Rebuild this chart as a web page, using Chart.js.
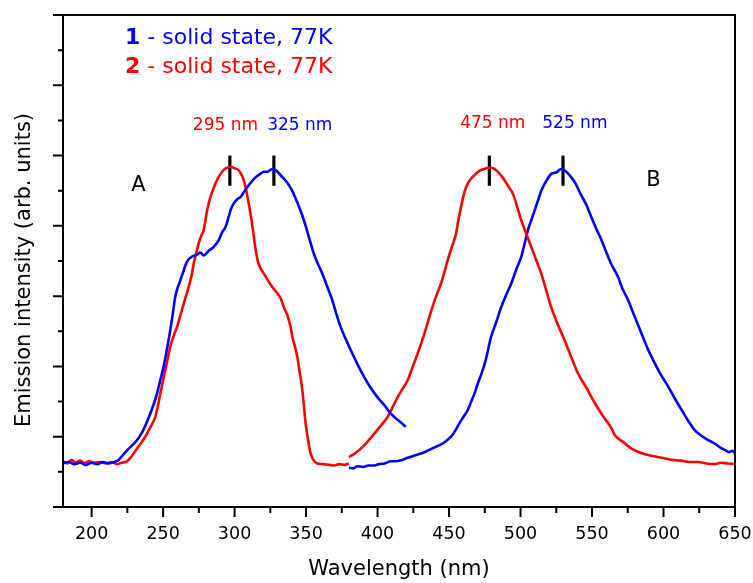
<!DOCTYPE html>
<html lang="en">
<head>
<meta charset="UTF-8">
<title>Emission spectra</title>
<script src="https://cdn.jsdelivr.net/npm/chart.js"></script>
<style>
  body { margin: 0; background: #fff; }
  #wrap { width: 753px; height: 583px; }
</style>
</head>
<body>
<div id="wrap"><canvas id="myChart"></canvas></div>
<script>
// axis ticks
const xTicks = [200, 250, 300, 350, 400, 450, 500, 550, 600, 650];
const xMinor = [225, 275, 325, 375, 425, 475, 525, 575, 625];
const yTicks = [0, 1, 2, 3, 4, 5, 6, 7];
const yMinor = [0.5, 1.5, 2.5, 3.5, 4.5, 5.5, 6.5];

// compound 1, band A (blue)
const blueAX = [180,184,188,192,196,200,204,208,212,216,219,222.3,226,231.7,235,238.7,242,245.7,248,250.3,253,255,257,258.5,260.5,262,264,266.7,270,273.7,276,278.4,282,285.4,289,291.3,293.6,295.9,297.5,299.4,302,304.1,306.5,308.8,312,314.6,318,320.5,323,326.4,329,332.2,335,338,340.5,342.7,345.5,348.5,352,355.5,358.5,361.4,364.9,368.4,371,374.2,377.5,381.3,386,390.6,395,400,405,409.3,414,417,419.8];
const blueAY = [0.62,0.64,0.61,0.63,0.60,0.63,0.61,0.64,0.62,0.64,0.67,0.75,0.83,0.95,1.05,1.21,1.38,1.61,1.80,1.99,2.28,2.51,2.78,2.99,3.14,3.22,3.34,3.49,3.56,3.59,3.62,3.58,3.65,3.70,3.80,3.91,3.98,4.13,4.24,4.32,4.38,4.41,4.48,4.55,4.63,4.69,4.74,4.77,4.77,4.81,4.79,4.72,4.66,4.58,4.49,4.39,4.25,4.08,3.84,3.60,3.45,3.32,3.13,2.94,2.76,2.56,2.40,2.23,2.03,1.85,1.70,1.56,1.44,1.33,1.24,1.19,1.14];

// compound 2, band A (red)
const redAX = [180,183,186,189,192,195,198,202,206,210,214,218,221,224.7,228,231.7,235,238.7,241.5,244.5,246.5,248,250,251.5,253.3,255,257.5,259.7,262,264.4,266,267.9,270,271.4,273,274.9,276.5,278.4,280.8,283.1,286.6,289,291.3,294,297.1,300,302.9,305,306.4,308,309.5,311.1,312.8,314.6,316.5,318.5,320.5,323.5,326.4,329.9,332.2,334.5,336.9,339.2,340.4,342,343.9,345.7,347.4,348.6,349.7,351.4,353.2,355.5,357.9,362,366,369.5,373,377,380];
const redAY = [0.65,0.62,0.67,0.63,0.66,0.62,0.65,0.63,0.64,0.62,0.64,0.61,0.63,0.65,0.72,0.83,0.92,1.04,1.15,1.28,1.45,1.61,1.80,1.94,2.12,2.28,2.44,2.56,2.72,2.89,3.00,3.13,3.30,3.46,3.60,3.75,3.85,3.94,4.22,4.41,4.60,4.70,4.77,4.82,4.84,4.82,4.79,4.72,4.65,4.52,4.36,4.18,3.95,3.68,3.48,3.38,3.32,3.22,3.13,3.04,2.97,2.84,2.73,2.56,2.42,2.30,2.13,1.90,1.66,1.42,1.19,0.95,0.76,0.66,0.62,0.61,0.60,0.59,0.61,0.60,0.62];

// compound 2, band B (red)
const redBX = [380,384,388.3,393,397.6,402,407,410.5,414,417.5,421,424.5,428,432.5,437.4,441,444.4,447,449,452,454.9,456.5,458.4,460,461.9,464.5,467.7,471,474.7,478,481.8,485.5,488.8,491.5,494.6,497.5,500.5,504,507.5,511,514.5,518,521.5,526,530.9,535.5,540.2,546,551.9,557.5,563.6,566,572,577.6,583,589.3,594,598.7,605.7,612,618,624.4,630,636,640,645,650];
const redBY = [0.71,0.76,0.83,0.93,1.04,1.15,1.28,1.42,1.56,1.68,1.80,1.99,2.18,2.45,2.78,3.00,3.18,3.36,3.51,3.70,3.89,4.08,4.27,4.42,4.55,4.65,4.72,4.78,4.81,4.83,4.81,4.74,4.65,4.56,4.46,4.28,4.08,3.89,3.70,3.51,3.32,3.08,2.84,2.60,2.37,2.13,1.90,1.70,1.48,1.30,1.12,1.02,0.92,0.83,0.78,0.74,0.72,0.70,0.67,0.66,0.64,0.64,0.62,0.61,0.63,0.62,0.61];

// compound 1, band B (blue)
const blueBX = [380,383,386,390,393.5,397.6,401,405,409.3,413,417,421,427,432.7,438,444.4,448,451.4,454.5,457.2,460,463.1,465.5,467.7,470,472.4,475.5,479.4,483,486.4,490,493.5,497,500.5,503,505.2,507.5,509.9,512,514.5,518,521.5,525,528.5,532,535.5,538.5,542.6,546,549.6,552.5,556.6,559.5,563.6,568.3,571,575.3,580,584.6,589,594,598.5,603.4,608,612.7,617.5,622,626,631.4,636,640,643,646,648,650];
const blueBY = [0.56,0.55,0.58,0.57,0.59,0.59,0.61,0.62,0.65,0.65,0.67,0.70,0.74,0.78,0.83,0.89,0.94,1.00,1.09,1.19,1.28,1.38,1.50,1.61,1.75,1.88,2.08,2.42,2.63,2.84,3.02,3.18,3.38,3.56,3.76,3.94,4.08,4.22,4.35,4.50,4.64,4.74,4.76,4.81,4.77,4.69,4.60,4.43,4.30,4.12,3.98,3.80,3.65,3.45,3.27,3.12,2.94,2.70,2.47,2.25,2.04,1.87,1.71,1.54,1.38,1.22,1.09,1.02,0.95,0.90,0.84,0.81,0.78,0.80,0.76];

// peak marks (wavelength where the black bar sits)
const peakX = [296.7, 327.5, 478.2, 529.7];
const peakLow = 4.57, peakHigh = 5.0;

const FONT = "'DejaVu Sans', sans-serif";
const BLUE = '#0000ff', RED = '#ff0000';

// text placed in data units
const notes = [
  { text: '295 nm', x: 293.6, y: 5.43, color: RED, size: 17 },
  { text: '325 nm', x: 345.6, y: 5.43, color: BLUE, size: 17 },
  { text: '475 nm', x: 480.6, y: 5.45, color: RED, size: 17 },
  { text: '525 nm', x: 538, y: 5.45, color: BLUE, size: 17 },
  { text: 'A', x: 232.8, y: 4.58, color: '#000', size: 21 },
  { text: 'B', x: 593, y: 4.65, color: '#000', size: 21 }
];
const legendRows = [
  { num: '1', text: ' - solid state, 77K', color: BLUE, y: 6.67 },
  { num: '2', text: ' - solid state, 77K', color: RED, y: 6.26 }
];
const legendX = 223.4;

function pts(xs, ys) {
  return xs.map((v, i) => ({ x: v, y: ys[i] }));
}

function curve(xs, ys, color) {
  return {
    data: pts(xs, ys),
    borderColor: color,
    borderWidth: 2.6,
    pointRadius: 0,
    cubicInterpolationMode: 'monotone',
    fill: false
  };
}

const datasets = [
  curve(blueAX, blueAY, BLUE),
  curve(redAX, redAY, RED),
  curve(redBX, redBY, RED),
  curve(blueBX, blueBY, BLUE)
];
peakX.forEach(p => {
  datasets.push({
    data: [{ x: p, y: peakLow }, { x: p, y: peakHigh }],
    borderColor: '#000',
    borderWidth: 3.2,
    pointRadius: 0
  });
});

// frame, tick marks, y title and notes
const decor = {
  id: 'decor',
  afterDraw(chart) {
    const { ctx, chartArea: a, scales: { x, y } } = chart;
    ctx.save();
    ctx.strokeStyle = '#000';
    ctx.lineWidth = 2;
    ctx.strokeRect(a.left, a.top, a.right - a.left, a.bottom - a.top);

    ctx.beginPath();
    xTicks.forEach(v => { const px = x.getPixelForValue(v); ctx.moveTo(px, a.bottom); ctx.lineTo(px, a.bottom + 10); });
    xMinor.forEach(v => { const px = x.getPixelForValue(v); ctx.moveTo(px, a.bottom); ctx.lineTo(px, a.bottom + 6); });
    yTicks.forEach(v => { const py = y.getPixelForValue(v); ctx.moveTo(a.left, py); ctx.lineTo(a.left - 10, py); });
    yMinor.forEach(v => { const py = y.getPixelForValue(v); ctx.moveTo(a.left, py); ctx.lineTo(a.left - 5, py); });
    ctx.stroke();

    // y axis title
    ctx.fillStyle = '#000';
    ctx.font = '21px ' + FONT;
    ctx.textAlign = 'center';
    ctx.textBaseline = 'middle';
    ctx.translate(a.left - 38, (a.top + a.bottom) / 2 + 9);
    ctx.rotate(-Math.PI / 2);
    ctx.fillText('Emission intensity (arb. units)', 0, 0);
    ctx.setTransform(1, 0, 0, 1, 0, 0);

    notes.forEach(n => {
      ctx.fillStyle = n.color;
      ctx.font = n.size + 'px ' + FONT;
      ctx.fillText(n.text, x.getPixelForValue(n.x), y.getPixelForValue(n.y));
    });

    ctx.textAlign = 'left';
    legendRows.forEach(r => {
      const px = x.getPixelForValue(legendX);
      const py = y.getPixelForValue(r.y);
      ctx.fillStyle = r.color;
      ctx.font = 'bold 22px ' + FONT;
      ctx.fillText(r.num, px, py);
      const w = ctx.measureText(r.num).width;
      ctx.font = '22px ' + FONT;
      ctx.fillText(r.text, px + w, py);
    });
    ctx.restore();
  }
};

const ctx = document.querySelector('#myChart');
new Chart(ctx, {
  type: 'line',
  data: { datasets: datasets },
  options: {
    responsive: true,
    maintainAspectRatio: false,
    animation: false,
    parsing: false,
    layout: { padding: { left: 8, right: 18, top: 15, bottom: 0 } },
    plugins: { legend: { display: false }, tooltip: { enabled: false } },
    scales: {
      x: {
        type: 'linear',
        min: 180,
        max: 650,
        afterBuildTicks: s => { s.ticks = xTicks.map(v => ({ value: v })); },
        afterFit: s => { s.height = 76; s.paddingLeft = 0; s.paddingRight = 0; },
        grid: { display: false },
        border: { display: false },
        ticks: { color: '#000', font: { family: FONT, size: 17.5 }, padding: 9, maxRotation: 0, autoSkip: false },
        title: { display: true, text: 'Wavelength (nm)', color: '#000', font: { family: FONT, size: 21 }, padding: { top: 4, bottom: 1 } }
      },
      y: {
        type: 'linear',
        min: 0,
        max: 7,
        afterBuildTicks: s => { s.ticks = yTicks.map(v => ({ value: v })); },
        afterFit: s => { s.width = 55; s.paddingTop = 0; s.paddingBottom = 0; },
        grid: { display: false },
        border: { display: false },
        ticks: { display: false }
      }
    }
  },
  plugins: [decor]
});
</script>
</body>
</html>
